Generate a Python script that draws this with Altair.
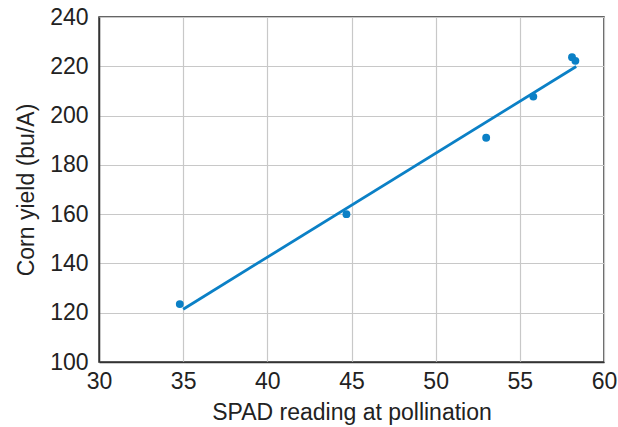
import altair as alt
import pandas as pd

spad = [34.8, 44.7, 53.0, 55.8, 58.1, 58.3]
yield_bu = [123.5, 160.0, 191.0, 207.7, 223.7, 222.2]

df = pd.DataFrame({"spad": spad, "yield": yield_bu})

blue = "#0b80c6"
FONT = "Liberation Sans"

x = alt.X("spad:Q", scale=alt.Scale(domain=[30, 60], nice=False),
          axis=alt.Axis(values=[30, 35, 40, 45, 50, 55, 60], title="SPAD reading at pollination",
                        labelFlush=False, labelPadding=8, titlePadding=8))
y = alt.Y("yield:Q", scale=alt.Scale(domain=[100, 240], nice=False),
          axis=alt.Axis(values=[100, 120, 140, 160, 180, 200, 220, 240], title="Corn yield (bu/A)",
                        labelFlush=False, labelPadding=11, titlePadding=11))

points = alt.Chart(df).mark_circle(size=62, color=blue, opacity=1).encode(x=x, y=y)
line = alt.Chart(df).transform_regression("spad", "yield", extent=[35, 58.35]).mark_line(
    color=blue, strokeWidth=2.8).encode(x=x, y=y)

chart = (line + points).properties(
    width=505, height=345,
    autosize=alt.AutoSizeParams(type="none"),
    padding={"left": 99, "top": 17, "right": 14, "bottom": 65},
).configure_view(stroke="#333333", strokeWidth=1.5).configure_axis(
    labelFont=FONT, titleFont=FONT, labelFontSize=23, titleFontSize=23,
    labelColor="#222222", titleColor="#222222", titleFontWeight="normal",
    gridColor="#c8c8c8", gridWidth=1.2, domainColor="#333333", domainWidth=1.5,
    ticks=False,
)

chart.save("out.html", embed_options={"renderer": "svg", "actions": False})
